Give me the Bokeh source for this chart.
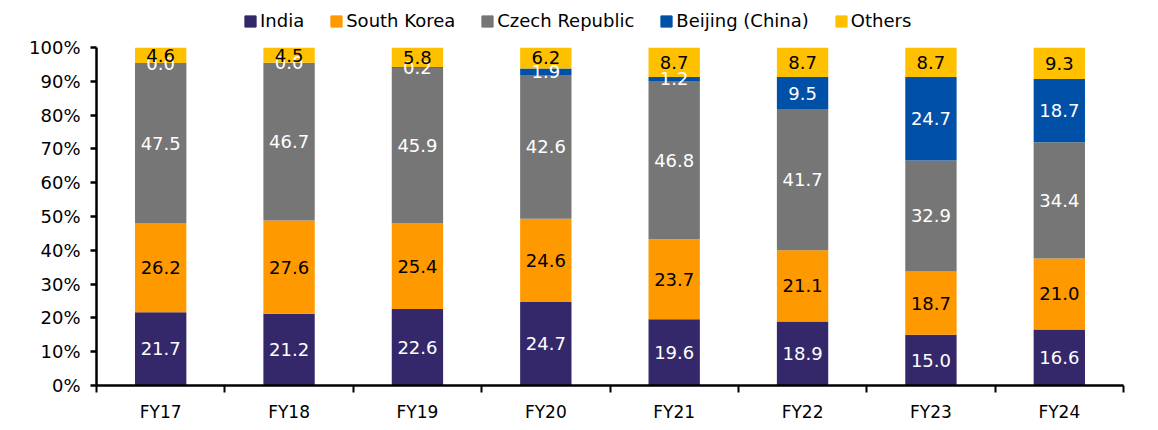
from bokeh.plotting import figure
from bokeh.layouts import column
from bokeh.models import (ColumnDataSource, FixedTicker, Legend, LegendItem,
                          Range1d, PrintfTickFormatter, CustomJSTickFormatter)
from bokeh.core.properties import value
from bokeh.embed import file_html
from bokeh.resources import INLINE

categories = ["FY17", "FY18", "FY19", "FY20", "FY21", "FY22", "FY23", "FY24"]
series = ["India", "South Korea", "Czech Republic", "Beijing (China)", "Others"]
india = [21.7, 21.2, 22.6, 24.7, 19.6, 18.9, 15.0, 16.6]
south_korea = [26.2, 27.6, 25.4, 24.6, 23.7, 21.1, 18.7, 21.0]
czech = [47.5, 46.7, 45.9, 42.6, 46.8, 41.7, 32.9, 34.4]
beijing = [0.0, 0.0, 0.2, 1.9, 1.2, 9.5, 24.7, 18.7]
others = [4.6, 4.5, 5.8, 6.2, 8.7, 8.7, 8.7, 9.3]
y_ticks = [0, 10, 20, 30, 40, 50, 60, 70, 80, 90, 100]

colors = ["#35286A", "#FF9900", "#767676", "#0050A8", "#FFC000"]
label_colors = ["white", "black", "white", "white", "black"]
FONT = "DejaVu Sans"

values = [india, south_korea, czech, beijing, others]
n = len(categories)
totals = [sum(v[i] for v in values) for i in range(n)]
xs = [i + 0.5 for i in range(n)]

data = {"x": xs}
for s, v in zip(series, values):
    data[s] = [v[i] / totals[i] * 100 for i in range(n)]
source = ColumnDataSource(data)

p = figure(width=1158, height=395, x_range=Range1d(0, n), y_range=Range1d(0, 100),
           output_backend="svg", toolbar_location=None,
           min_border_left=96, min_border_right=35, min_border_top=12,
           min_border_bottom=45)
p.outline_line_color = None
p.xgrid.visible = False
p.ygrid.visible = False
p.background_fill_color = "white"
p.border_fill_color = "white"

renderers = p.vbar_stack(series, x="x", width=0.4, color=colors, source=source,
                         line_color=None)

# labels
cum = [0.0] * n
for s, v, lc in zip(series, values, label_colors):
    pct = data[s]
    mids = [cum[i] + pct[i] / 2 for i in range(n)]
    cum = [cum[i] + pct[i] for i in range(n)]
    lsrc = ColumnDataSource(dict(x=xs, y=mids, t=["%.1f" % val for val in v]))
    p.text(x="x", y="y", text="t", source=lsrc, text_align="center",
           text_baseline="middle", text_color=lc, text_font=value(FONT),
           text_font_size="18px")

# axes
xa = p.xaxis[0]
xa.ticker = FixedTicker(ticks=xs, minor_ticks=list(range(n + 1)))
xa.formatter = CustomJSTickFormatter(args=dict(labels=categories),
                                     code="const i = Math.floor(tick); return labels[i] || '';")
xa.major_tick_in = 0
xa.major_tick_out = 0
xa.minor_tick_in = 0
xa.minor_tick_out = 7
xa.minor_tick_line_width = 2
xa.minor_tick_line_color = "black"
xa.axis_line_width = 2.5
xa.axis_line_color = "black"
xa.major_label_standoff = 9
xa.major_label_text_font = FONT
xa.major_label_text_font_size = "17px"
xa.major_label_text_color = "black"

ya = p.yaxis[0]
ya.ticker = FixedTicker(ticks=y_ticks, minor_ticks=[])
ya.formatter = PrintfTickFormatter(format="%d%%")
ya.major_tick_in = 0
ya.major_tick_out = 6
ya.major_tick_line_width = 2.5
ya.major_tick_line_color = "black"
ya.minor_tick_out = 0
ya.minor_tick_in = 0
ya.axis_line_width = 2.5
ya.axis_line_color = "black"
ya.major_label_standoff = 10
ya.major_label_text_font = FONT
ya.major_label_text_font_size = "18px"
ya.major_label_text_color = "black"

# legend strip above the chart
lg = figure(width=1158, height=35, x_range=Range1d(0, 1), y_range=Range1d(0, 1),
            output_backend="svg", toolbar_location=None,
            x_axis_type=None, y_axis_type=None, min_border=0)
lg.outline_line_color = None
lg.xgrid.visible = False
lg.ygrid.visible = False
hidden = ColumnDataSource(dict(x=[-10], top=[-10]))
dummies = [lg.vbar(x="x", top="top", width=0.1, color=c, source=hidden) for c in colors]
legend = Legend(items=[LegendItem(label=s, renderers=[r]) for s, r in zip(series, dummies)],
                orientation="horizontal", location=(147, 4),
                label_text_font=FONT, label_text_font_size="18px",
                label_text_color="black",
                glyph_width=14, glyph_height=14, label_standoff=3, spacing=25,
                padding=0, margin=0, border_line_color=None,
                background_fill_alpha=0)
lg.add_layout(legend, "center")

layout = column(lg, p, spacing=0)
open("out.html", "w").write(file_html(layout, INLINE))
